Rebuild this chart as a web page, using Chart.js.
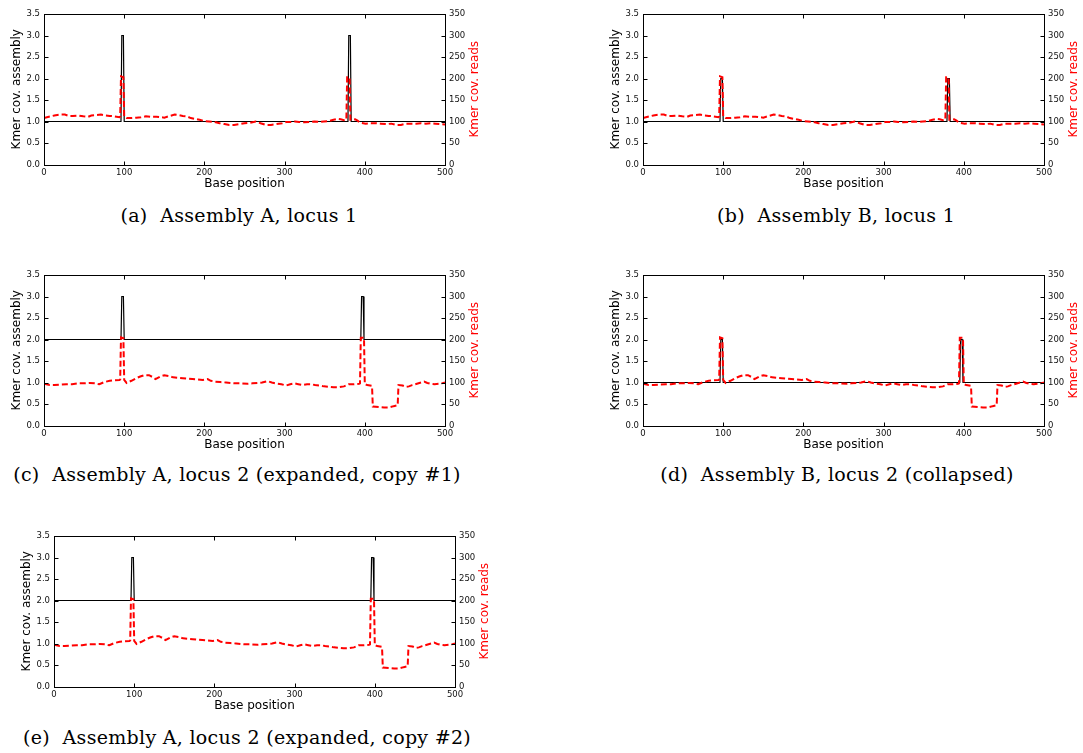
<!DOCTYPE html>
<html>
<head>
<meta charset="utf-8">
<script src="https://cdn.jsdelivr.net/npm/chart.js@4/dist/chart.umd.min.js"></script>
<style>
body { margin: 0; background: #fff; width: 1083px; height: 753px; position: relative; overflow: hidden; }
canvas { position: absolute; }
.cap { position: absolute; width: 500px; height: 24px; line-height: 24px; font-family: "DejaVu Serif"; font-size: 19px; letter-spacing: 0.3px; text-align: center; white-space: nowrap; color: #000; }
</style>
</head>
<body>
<canvas id="panelA" width="484" height="195" style="left:0px;top:0px"></canvas>
<canvas id="panelB" width="484" height="195" style="left:599px;top:0px"></canvas>
<canvas id="panelC" width="484" height="195" style="left:0px;top:261px"></canvas>
<canvas id="panelD" width="484" height="195" style="left:599px;top:261px"></canvas>
<canvas id="panelE" width="484" height="195" style="left:10px;top:522px"></canvas>
<div class="cap" style="left:-11px;top:203px">(a)&nbsp; Assembly A, locus 1</div>
<div class="cap" style="left:586px;top:203px">(b)&nbsp; Assembly B, locus 1</div>
<div class="cap" style="left:-13px;top:462px">(c)&nbsp; Assembly A, locus 2 (expanded, copy #1)</div>
<div class="cap" style="left:587px;top:462px">(d)&nbsp; Assembly B, locus 2 (collapsed)</div>
<div class="cap" style="left:-3px;top:725px">(e)&nbsp; Assembly A, locus 2 (expanded, copy #2)</div>
<script>
// axis ticks
const xTicks = [0, 100, 200, 300, 400, 500];
const asmTicks = [0, 0.5, 1, 1.5, 2, 2.5, 3, 3.5];
const readTicks = [0, 50, 100, 150, 200, 250, 300, 350];

// kmer coverage of reads, locus 1 (panels a, b)
const locus1Pos = [0, 6, 13, 20, 26, 31, 36, 43, 49, 55, 59, 66, 71, 77, 82, 88, 94, 95, 96, 99, 100, 103, 109, 115, 121, 127, 134, 140, 146, 150, 157, 163, 168, 173, 178, 183, 189, 194, 200, 206, 212, 219, 225, 231, 237, 244, 250, 257, 264, 270, 277, 283, 290, 297, 302, 308, 313, 318, 325, 331, 337, 343, 349, 355, 361, 366, 370, 374, 377, 378, 381, 382, 385, 388, 391, 394, 401, 407, 414, 420, 427, 433, 439, 445, 451, 458, 464, 470, 476, 482, 488, 494, 500];
const locus1Reads = [108, 111, 114, 116, 116, 113, 113, 114, 112, 111, 114, 115, 116, 114, 113, 112, 110, 112, 205, 203, 112, 108, 108, 109, 110, 112, 111, 111, 110, 109, 113, 116, 115, 113, 112, 108, 106, 104, 101, 100, 99, 96, 94, 92, 92, 94, 96, 97, 100, 96, 92, 92, 94, 96, 99, 99, 100, 99, 98, 99, 100, 99, 100, 101, 104, 106, 105, 103, 104, 203, 203, 104, 104, 105, 102, 97, 95, 96, 96, 95, 94, 95, 92, 92, 95, 95, 95, 96, 95, 96, 95, 94, 93];

// kmer coverage of reads, locus 2 (panels c, d, e)
const locus2Pos = [0, 7, 13, 20, 28, 35, 42, 49, 57, 63, 69, 75, 82, 88, 94, 95, 96, 99, 100, 103, 109, 115, 120, 125, 131, 135, 139, 145, 150, 156, 161, 167, 173, 179, 185, 192, 198, 204, 208, 213, 220, 227, 233, 239, 246, 254, 260, 266, 272, 279, 284, 289, 296, 302, 307, 312, 317, 322, 328, 333, 338, 343, 349, 355, 361, 368, 374, 380, 386, 393, 394, 395, 399, 400, 403, 409, 410, 418, 424, 430, 436, 441, 442, 447, 451, 455, 459, 463, 468, 474, 478, 482, 487, 492, 496, 500];
const locus2Reads = [97, 94, 94, 95, 96, 96, 98, 98, 99, 98, 96, 101, 104, 105, 106, 107, 205, 203, 106, 99, 104, 110, 114, 117, 117, 113, 108, 114, 117, 115, 112, 111, 110, 109, 108, 107, 106, 108, 104, 102, 101, 100, 99, 98, 98, 97, 98, 99, 100, 103, 100, 98, 96, 93, 96, 98, 96, 94, 96, 96, 94, 93, 91, 90, 89, 89, 91, 96, 96, 97, 98, 204, 204, 96, 94, 92, 44, 43, 42, 42, 45, 47, 94, 93, 90, 91, 94, 96, 99, 102, 99, 97, 96, 97, 98, 100];

// kmer coverage of the assemblies
const asmPos1 = [0, 96, 97, 99, 100, 379, 380, 382, 383, 500];
const asmPos2 = [0, 96, 97, 99, 100, 395, 396, 398, 399, 500];
const asmA1 = [1, 1, 3, 3, 1, 1, 3, 3, 1, 1];
const asmB1 = [1, 1, 2, 2, 1, 1, 2, 2, 1, 1];
const asmA2 = [2, 2, 3, 3, 2, 2, 3, 3, 2, 2];
const asmB2 = [1, 1, 2, 2, 1, 1, 2, 2, 1, 1];

const tickFont = { family: 'DejaVu Sans', size: 8.5 };
const titleFont = { family: 'DejaVu Sans', size: 12 };

// box, inward ticks and the red right-hand title
const framePlugin = {
    id: 'frame',
    afterDraw(chart) {
        const ctx = chart.ctx;
        const a = chart.chartArea;
        const L = Math.round(a.left) + 0.5, R = Math.round(a.right) + 0.5;
        const T = Math.round(a.top) + 0.5, B = Math.round(a.bottom) + 0.5;
        const sx = chart.scales.x, sy = chart.scales.y, sy2 = chart.scales.y2;
        ctx.save();
        ctx.strokeStyle = '#000';
        ctx.lineWidth = 1;
        ctx.beginPath();
        sx.ticks.forEach(t => {
            const p = Math.round(sx.getPixelForValue(t.value)) + 0.5;
            ctx.moveTo(p, B); ctx.lineTo(p, B - 4);
            ctx.moveTo(p, T); ctx.lineTo(p, T + 4);
        });
        sy.ticks.forEach(t => {
            const p = Math.round(sy.getPixelForValue(t.value)) + 0.5;
            ctx.moveTo(L, p); ctx.lineTo(L + 4, p);
        });
        sy2.ticks.forEach(t => {
            const p = Math.round(sy2.getPixelForValue(t.value)) + 0.5;
            ctx.moveTo(R, p); ctx.lineTo(R - 4, p);
        });
        ctx.stroke();
        ctx.strokeRect(L, T, R - L, B - T);
        ctx.translate(a.right + 30, (a.top + a.bottom) / 2);
        ctx.rotate(-Math.PI / 2);
        ctx.fillStyle = '#ff0000';
        ctx.font = '12px "DejaVu Sans"';
        ctx.textAlign = 'center';
        ctx.textBaseline = 'middle';
        ctx.fillText('Kmer cov. reads', 0, 0);
        ctx.restore();
    }
};

function toPoints(xs, ys) {
    return xs.map((x, i) => ({ x: x, y: ys[i] }));
}

function makePanel(id, asmPos, asmVals, readPos, readVals) {
    new Chart(document.getElementById(id), {
        type: 'line',
        data: {
            datasets: [
                {
                    label: 'reads',
                    data: toPoints(readPos, readVals),
                    yAxisID: 'y2',
                    borderColor: '#ff0000',
                    borderWidth: 2,
                    borderDash: [6, 3],
                    pointRadius: 0,
                    tension: 0
                },
                {
                    label: 'assembly',
                    data: toPoints(asmPos, asmVals),
                    yAxisID: 'y',
                    borderColor: '#000',
                    borderWidth: 1.2,
                    pointRadius: 0,
                    tension: 0
                }
            ]
        },
        options: {
            responsive: false,
            animation: false,
            devicePixelRatio: 1,
            layout: { padding: { top: 14, left: 0, right: 0, bottom: 0 } },
            plugins: { legend: { display: false }, tooltip: { enabled: false } },
            scales: {
                x: {
                    type: 'linear', min: 0, max: 500,
                    afterBuildTicks: s => { s.ticks = xTicks.map(v => ({ value: v })); },
                    afterFit: s => { s.height = 30.5; },
                    grid: { display: false, drawTicks: false },
                    border: { display: false },
                    ticks: { font: tickFont, color: '#111', padding: 3, maxRotation: 0 },
                    title: { display: true, text: 'Base position', font: titleFont, color: '#000', padding: { top: 0, bottom: 4 } }
                },
                y: {
                    position: 'left', min: 0, max: 3.5,
                    afterBuildTicks: s => { s.ticks = asmTicks.map(v => ({ value: v })); },
                    afterFit: s => { s.width = 44; },
                    grid: { display: false, drawTicks: false },
                    border: { display: false },
                    ticks: { font: tickFont, color: '#111', padding: 4, callback: v => v.toFixed(1) },
                    title: { display: true, text: 'Kmer cov. assembly', font: titleFont, color: '#000', padding: { top: 10, bottom: 0 } }
                },
                y2: {
                    position: 'right', min: 0, max: 350,
                    afterBuildTicks: s => { s.ticks = readTicks.map(v => ({ value: v })); },
                    afterFit: s => { s.width = 39; },
                    grid: { display: false, drawTicks: false },
                    border: { display: false },
                    ticks: { font: tickFont, color: '#111', padding: 4 }
                }
            }
        },
        plugins: [framePlugin]
    });
}

makePanel('panelA', asmPos1, asmA1, locus1Pos, locus1Reads);
makePanel('panelB', asmPos1, asmB1, locus1Pos, locus1Reads);
makePanel('panelC', asmPos2, asmA2, locus2Pos, locus2Reads);
makePanel('panelD', asmPos2, asmB2, locus2Pos, locus2Reads);
makePanel('panelE', asmPos2, asmA2, locus2Pos, locus2Reads);
</script>
</body>
</html>
